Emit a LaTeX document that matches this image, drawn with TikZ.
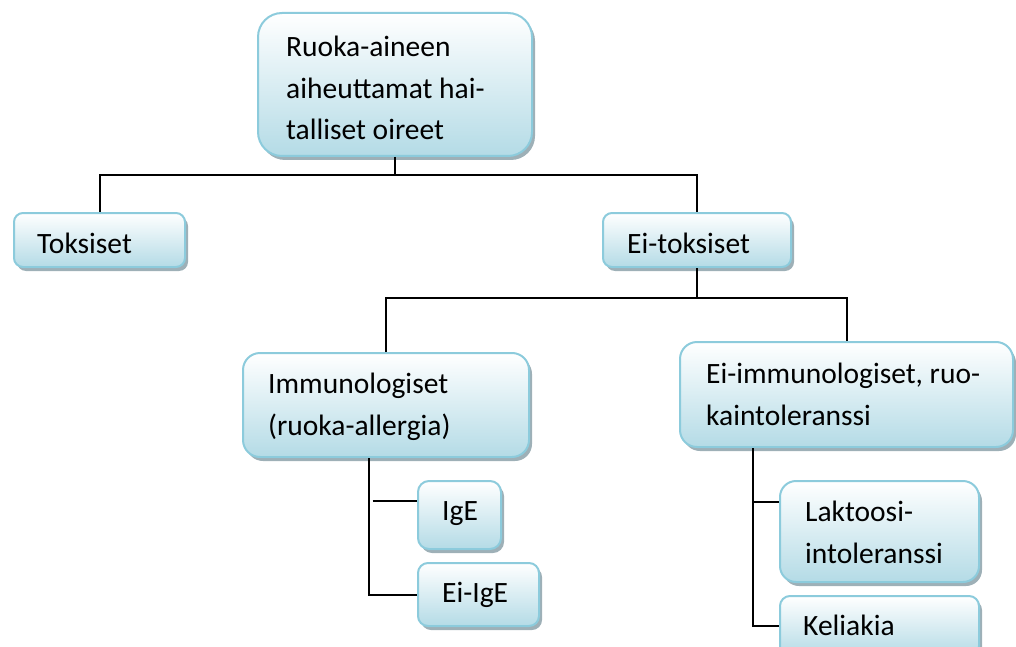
\documentclass[tikz,border=0pt]{standalone}
\usepackage{fontspec}
\setmainfont{Carlito}
\usetikzlibrary{shadows,calc}

\definecolor{boxedge}{HTML}{8CCBDC}
\definecolor{boxbot}{HTML}{B4DBE6}
\definecolor{boxshade}{HTML}{93A7AF}

\tikzset{
  box/.style={draw=boxedge, line width=2pt, top color=white, bottom color=boxbot,
    drop shadow={shadow xshift=3pt, shadow yshift=-4pt, fill=boxshade, opacity=0.9},
    inner sep=0pt},
  % base anchor of a multi-line label sits on its last line
  lbl/.style={anchor=base west, inner sep=0pt, align=left,
    font=\fontsize{29.5}{41.5}\selectfont},
  link/.style={draw=black, line width=2pt},
}

\begin{document}
\begin{tikzpicture}[x=1pt, y=-1pt]
\useasboundingbox (0,0) rectangle (1016,647);
\clip (0,0) rectangle (1016,647);

% boxes of the tree
\node[box, minimum width=274pt, minimum height=143pt, rounded corners=24pt] (top)   at (395,84.5)   {};
\node[box, minimum width=171pt, minimum height=54pt,  rounded corners=9pt]  (tox)   at (99.5,240)   {};
\node[box, minimum width=188pt, minimum height=54pt,  rounded corners=9pt]  (eitox) at (697,240)    {};
\node[box, minimum width=286pt, minimum height=104pt, rounded corners=17pt] (imm)   at (386,405)    {};
\node[box, minimum width=333pt, minimum height=105pt, rounded corners=17pt] (eimm)  at (846.5,394.5){};
\node[box, minimum width=83pt,  minimum height=68pt,  rounded corners=11pt] (ige)   at (459.5,515)  {};
\node[box, minimum width=121pt, minimum height=63pt,  rounded corners=10pt] (eiige) at (478.5,594.5){};
\node[box, minimum width=199pt, minimum height=101pt, rounded corners=16pt] (lakt)  at (879.5,531.5){};
\node[box, minimum width=199pt, minimum height=60pt,  rounded corners=10pt] (kel)   at (879.5,626)  {};

% texts
\node[lbl] (topT)   at (286,140) {Ruoka-aineen\\aiheuttamat hai-\\talliset oireet};
\node[lbl] (toxT)   at (37,253)  {Toksiset};
\node[lbl] (eitoxT) at (627,253) {Ei-toksiset};
\node[lbl] (immT)   at (268,435) {Immunologiset\\(ruoka-allergia)};
\node[lbl] (eimmT)  at (706,425) {Ei-immunologiset, ruo-\\kaintoleranssi};
\node[lbl] (igeT)   at (442,520) {IgE};
\node[lbl] (eiigeT) at (442,602) {Ei-IgE};
\node[lbl] (laktT)  at (805,563) {Laktoosi-\\intoleranssi};
\node[lbl] (kelT)   at (803,635) {Keliakia};

% connectors
\coordinate (busA) at (0,175);
\coordinate (busB) at (0,298);
\draw[link] (top.south) -- (top.south |- busA);
\draw[link] (tox.north) |- (busA -| eitox.north) -- (eitox.north);
\draw[link] (eitox.south) -- (eitox.south |- busB);
\draw[link] (imm.north) |- (busB -| eimm.north) -- (eimm.north);

\coordinate (immstem) at ($(imm.south west)!0.44!(imm.south east)$);
\coordinate (igeport) at ($(ige.north west)!0.3!(ige.south west)$);
\draw[link] (immstem) |- (eiige.west);
\draw[link] ($(immstem |- igeport)+(4,0)$) -- (igeport);

\coordinate (eimmstem) at ($(eimm.south west)!0.22!(eimm.south east)$);
\coordinate (laktport) at ($(lakt.north west)!0.21!(lakt.south west)$);
\draw[link] (eimmstem) |- (kel.west);
\draw[link] (eimmstem |- laktport) -- (laktport);
\end{tikzpicture}
\end{document}
